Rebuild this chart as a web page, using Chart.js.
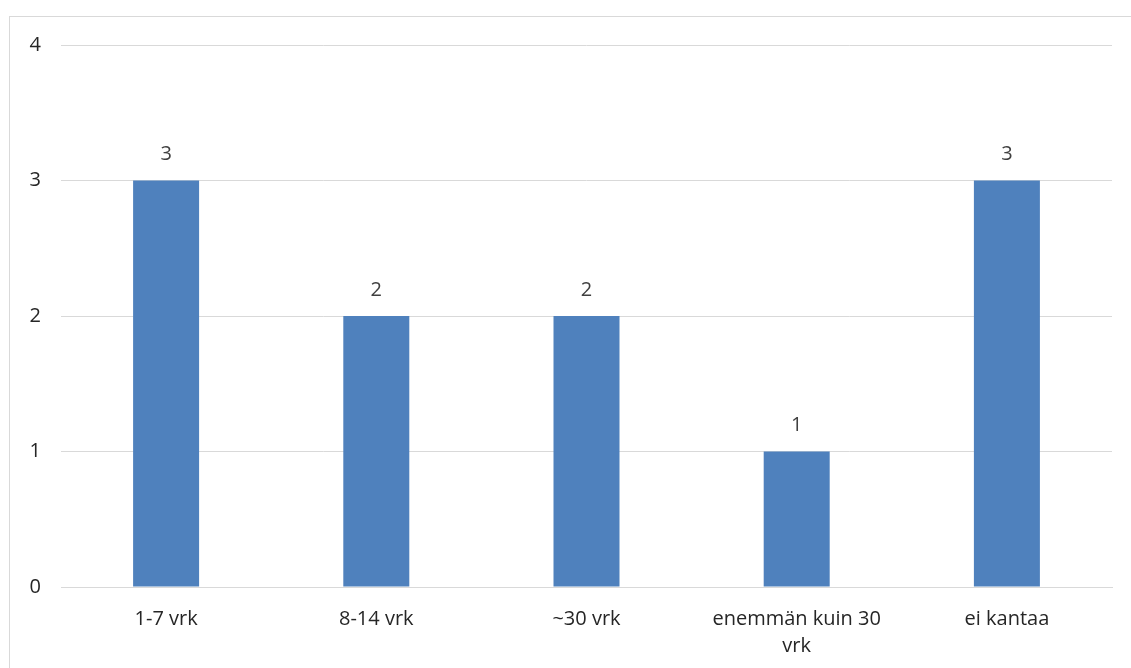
<!DOCTYPE html>
<html>
<head>
<meta charset="utf-8">
<script src="https://cdn.jsdelivr.net/npm/chart.js@4"></script>
<style>
  html, body { margin: 0; padding: 0; background: #ffffff; overflow: hidden; }
  #frame {
    position: absolute; left: 9px; top: 16px;
    width: 1140px; height: 670px;
    border: 1px solid #d9d9d9; box-sizing: border-box;
  }
  #wrap { position: absolute; left: 10px; top: 17px; width: 1121px; height: 651px; }
</style>
</head>
<body>
<div id="frame"></div>
<div id="wrap"><canvas id="c"></canvas></div>
<script>
// Vastausten jakauma
const categories = ['1-7 vrk', '8-14 vrk', '~30 vrk', ['enemmän kuin 30', 'vrk'], 'ei kantaa'];
const counts = [3, 2, 2, 1, 3];
const yTicks = [0, 1, 2, 3, 4];

const FONT = "'Open Sans', 'Noto Sans', sans-serif";
const FONT_SIZE = 20;

// Writes each bar's value just above the bar
const valueLabels = {
  id: 'valueLabels',
  afterDatasetsDraw(chart) {
    const ctx = chart.ctx;
    const meta = chart.getDatasetMeta(0);
    ctx.save();
    ctx.fillStyle = '#404040';
    ctx.font = FONT_SIZE + 'px ' + FONT;
    ctx.textAlign = 'center';
    ctx.textBaseline = 'middle';
    meta.data.forEach((bar, i) => {
      ctx.fillText(String(counts[i]), bar.x, bar.y - 26);
    });
    ctx.restore();
  }
};

new Chart(document.getElementById('c'), {
  type: 'bar',
  data: {
    labels: categories,
    datasets: [{
      data: counts,
      backgroundColor: '#4f81bd',
      borderWidth: 0,
      categoryPercentage: 1,
      barPercentage: 0.314
    }]
  },
  options: {
    responsive: true,
    maintainAspectRatio: false,
    animation: false,
    layout: { padding: { top: 28, right: 19, left: 0, bottom: 0 } },
    plugins: { legend: { display: false }, tooltip: { enabled: false } },
    scales: {
      x: {
        grid: { display: false, drawTicks: false },
        border: { display: true, color: '#d9d9d9', width: 1 },
        ticks: {
          color: '#262626',
          font: { family: FONT, size: FONT_SIZE, lineHeight: 1.35 },
          padding: 19,
          maxRotation: 0,
          autoSkip: false
        },
        afterFit(scale) { scale.height = 81; }
      },
      y: {
        min: 0, max: 4,
        afterBuildTicks(scale) { scale.ticks = yTicks.map(v => ({ value: v })); },
        grid: { color: '#d9d9d9', lineWidth: 1, drawTicks: false },
        border: { display: false },
        ticks: {
          color: '#262626',
          font: { family: FONT, size: FONT_SIZE, lineHeight: 0.7 },
          padding: 20
        },
        afterFit(scale) { scale.width = 51; }
      }
    }
  },
  plugins: [valueLabels]
});
</script>
</body>
</html>
